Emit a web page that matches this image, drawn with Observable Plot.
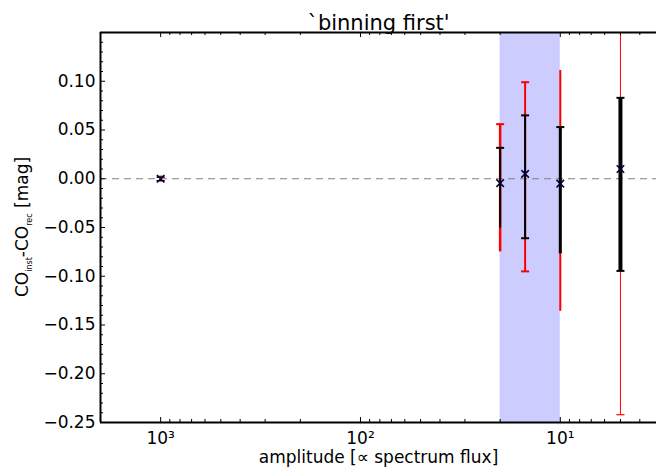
<!DOCTYPE html>
<html><head><meta charset="utf-8">
<script src="https://cdn.jsdelivr.net/npm/d3@7"></script>
<script src="https://cdn.jsdelivr.net/npm/@observablehq/plot@0.6"></script>
<style>body{margin:0;background:#fff} svg{font-family:"DejaVu Sans",sans-serif}</style>
</head><body><div id="chart"></div>
<script>
// ---- data ----
const amplitude = [1000, 20, 15, 10, 5];
const delta     = [0.000, -0.0045, 0.005, -0.005, 0.010];
const blackLow  = [-0.002, -0.0505, -0.061, -0.077, -0.0945];
const blackHigh = [0.0015, 0.0317, 0.065, 0.053, 0.083];
const redLow    = [-0.002, -0.075, -0.095, -0.136, -0.242];
const redHigh   = [0.0025, 0.056, 0.099, 0.111, 0.26];
const bandRange = [20, 10];
const xDomain = [2000, 3.3];
const yDomain = [-0.25, 0.15];
const yTicks = [-0.25, -0.20, -0.15, -0.10, -0.05, 0.00, 0.05, 0.10];
const xTicks = [1000, 100, 10];
const xTickLabels = ["10³", "10²", "10¹"];
const titleText = "`binning first'";
const xLabel = "amplitude [\u221d spectrum flux]";

// ---- styles (not data) ----
const blackWidth = [1, 2, 2, 3, 4];
const redWidth = [1, 2.5, 2, 2, 1];
const redCapTop = [true, true, true, false, false];
const redCapBot = [true, false, true, false, true];
const blackCapTop = [true, true, true, true, true];
const blackCapBot = [true, false, true, false, true];

const W = 656, H = 475, mL = 100, mR = 0, mT = 32, mB = 53;
const pw = W - mL - mR, ph = H - mT - mB;

const rows = amplitude.map((a, i) => ({a, d: delta[i], bl: blackLow[i], bh: blackHigh[i], rl: redLow[i], rh: redHigh[i], i}));

const yMinor = d3.range(-25, 16).map(v => v / 100).filter(v => !yTicks.some(t => Math.abs(t - v) < 1e-9));
const xMinor = [];
for (let e = 0; e <= 3; e++) for (let m = 2; m <= 9; m++) {
  const v = m * 10 ** e;
  if (v > xDomain[1] && v < xDomain[0]) xMinor.push(v);
}

const capSymbol = {draw(ctx, size) { ctx.moveTo(-4, 0); ctx.lineTo(4, 0); }};

function caps(data, yKey, color, widthArr, flags) {
  return Plot.dot(data.filter(r => flags[r.i]), {x: "a", y: yKey, symbol: capSymbol, stroke: color, fill: "none", strokeWidth: r => Math.max(1.2, Math.min(2, widthArr[r.i])), r: 4});
}

const chart = Plot.plot({
  width: W, height: H,
  marginLeft: mL, marginRight: mR, marginTop: mT, marginBottom: mB,
  x: {type: "log", domain: xDomain},
  y: {domain: yDomain},
  marks: [
    Plot.rectX([bandRange], {x1: d => d[0], x2: d => d[1], fill: "#ccccff"}),
    Plot.ruleY([0], {stroke: "#808080", strokeDasharray: "7,5", strokeWidth: 1}),
    // red error bars
    Plot.ruleX(rows, {x: "a", y1: "rl", y2: "rh", stroke: "red", strokeWidth: r => redWidth[r.i], clip: true}),
    caps(rows, "rh", "red", redWidth, redCapTop),
    caps(rows, "rl", "red", redWidth, redCapBot),
    // black error bars
    Plot.ruleX(rows, {x: "a", y1: "bl", y2: "bh", stroke: "black", strokeWidth: r => blackWidth[r.i]}),
    caps(rows, "bh", "black", blackWidth, blackCapTop),
    caps(rows, "bl", "black", blackWidth, blackCapBot),
    // markers
    Plot.dot(rows, {x: "a", y: "d", symbol: "times", r: 3.5, stroke: "#000033", strokeWidth: 1.5}),
    // inward ticks
    Plot.tickY(yTicks, {y: d => d, insetRight: pw - 5, stroke: "black", strokeWidth: 1}),
    Plot.tickY(yMinor, {y: d => d, insetRight: pw - 3, stroke: "black", strokeWidth: 1}),
    Plot.tickX(xTicks, {x: d => d, insetTop: ph - 5, stroke: "black", strokeWidth: 1}),
    Plot.tickX(xTicks, {x: d => d, insetBottom: ph - 5, stroke: "black", strokeWidth: 1}),
    Plot.tickX(xMinor, {x: d => d, insetTop: ph - 3, stroke: "black", strokeWidth: 1}),
    Plot.tickX(xMinor, {x: d => d, insetBottom: ph - 3, stroke: "black", strokeWidth: 1}),
    // spines
    Plot.ruleX([xDomain[0]], {stroke: "black", strokeWidth: 2}),
    Plot.ruleY([yDomain[0]], {stroke: "black", strokeWidth: 2}),
    Plot.ruleY([yDomain[1]], {stroke: "black", strokeWidth: 2}),
    // axes labels
    Plot.axisY(yTicks, {tickSize: 0, tickPadding: 5, tickFormat: d3.format(".2f"), fontSize: 17, label: null, fill: "black"}),
    Plot.axisX(xTicks, {tickSize: 0, tickPadding: 9, tickFormat: (d, i) => xTickLabels[xTicks.indexOf(d)], fontSize: 17, label: null, fill: "black"}),
    Plot.text([titleText], {frameAnchor: "top", dy: -17, fontSize: 21, fill: "black"}),
    Plot.text([xLabel], {frameAnchor: "bottom", dy: 40, fontSize: 17, fill: "black"})
  ]
});

document.getElementById("chart").appendChild(chart);

// y label with subscripts
const svg = d3.select(chart);
const yl = svg.append("text")
  .attr("transform", `translate(28,${mT + ph / 2}) rotate(-90)`)
  .attr("text-anchor", "middle")
  .attr("font-size", 17)
  .attr("fill", "black");
yl.append("tspan").text("CO");
yl.append("tspan").attr("font-size", 8).attr("dy", 4).text("inst");
yl.append("tspan").attr("dy", -4).text("-CO");
yl.append("tspan").attr("font-size", 8).attr("dy", 4).text("rec");
yl.append("tspan").attr("dy", -4).text(" [mag]");
</script></body></html>
